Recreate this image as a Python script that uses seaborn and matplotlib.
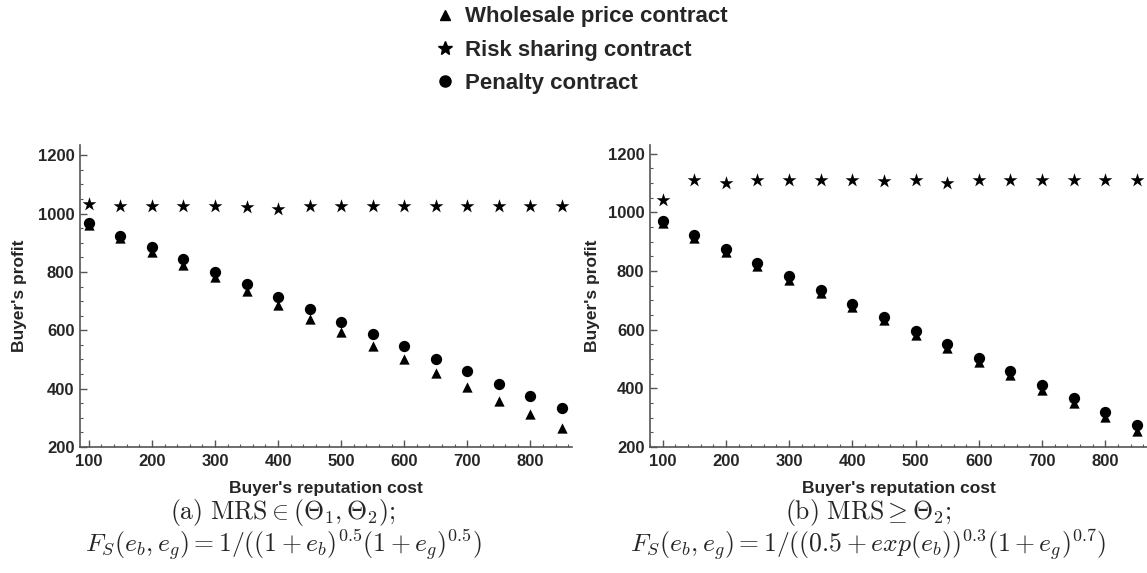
import numpy as np
import pandas as pd
import matplotlib
matplotlib.use("Agg")
import matplotlib.pyplot as plt
from matplotlib.lines import Line2D
from matplotlib.ticker import MultipleLocator
import seaborn as sns

# ---------------- data ----------------
cost = [100, 150, 200, 250, 300, 350, 400, 450, 500, 550, 600, 650, 700, 750, 800, 850]

wholesale_a = [961, 915, 869, 823, 781, 733, 686, 638, 593, 547, 500, 455, 406, 359, 314, 266]
risk_a = [1033, 1027, 1027, 1027, 1027, 1024, 1017, 1027, 1027, 1027, 1027, 1027, 1027, 1027, 1027, 1027]
penalty_a = [969, 924, 884, 843, 800, 758, 714, 672, 628, 587, 545, 501, 461, 416, 375, 334]

wholesale_b = [963, 913, 865, 817, 771, 724, 677, 633, 583, 539, 490, 445, 395, 351, 304, 256]
risk_b = [1042, 1110, 1101, 1110, 1110, 1110, 1110, 1108, 1110, 1101, 1110, 1110, 1110, 1110, 1110, 1110]
penalty_b = [971, 922, 874, 827, 782, 735, 689, 644, 595, 552, 504, 459, 410, 366, 320, 276]

contracts = ["Wholesale price contract", "Risk sharing contract", "Penalty contract"]
markers = {"Wholesale price contract": "^", "Risk sharing contract": "*", "Penalty contract": "o"}
sizes = {"Wholesale price contract": 55, "Risk sharing contract": 110, "Penalty contract": 66}
legend_ms = {"Wholesale price contract": 7, "Risk sharing contract": 10.5, "Penalty contract": 8}

x_label = "Buyer's reputation cost"
y_label = "Buyer's profit"
caption_a = [r"$\mathrm{(a)\ MRS} \in (\Theta_1, \Theta_2);$",
             r"$F_S(e_b, e_g) = 1/((1+e_b)^{0.5}(1+e_g)^{0.5})$"]
caption_b = [r"$\mathrm{(b)\ MRS} \geq \Theta_2;$",
             r"$F_S(e_b, e_g) = 1/((0.5+exp(e_b))^{0.3}(1+e_g)^{0.7})$"]


def long_df(w, r, p):
    rows = []
    for name, vals in zip(contracts, [w, r, p]):
        for c, v in zip(cost, vals):
            rows.append({"cost": c, "profit": v, "contract": name})
    return pd.DataFrame(rows)


df_a = long_df(wholesale_a, risk_a, penalty_a)
df_b = long_df(wholesale_b, risk_b, penalty_b)

# ---------------- style ----------------
sns.set_theme(style="ticks")
plt.rcParams["font.family"] = ["Liberation Sans", "DejaVu Sans"]
plt.rcParams["font.weight"] = "bold"
plt.rcParams["mathtext.fontset"] = "cm"

fig = plt.figure(figsize=(11.47, 5.73), dpi=100)
W, H = 1147, 573
ax_a = fig.add_axes([80 / W, 1 - 447 / H, (572 - 80) / W, (447 - 145) / H])
ax_b = fig.add_axes([650 / W, 1 - 447 / H, (1147 - 650) / W, (447 - 145) / H])

for ax, df, xlim, ylim in [(ax_a, df_a, (86, 866), (200, 1235)),
                            (ax_b, df_b, (80, 866), (200, 1230))]:
    for name in contracts:
        sub = df[df["contract"] == name]
        sns.scatterplot(data=sub, x="cost", y="profit", ax=ax, color="black",
                        marker=markers[name], s=sizes[name], linewidth=0,
                        legend=False)
    ax.set_xlim(*xlim)
    ax.set_ylim(*ylim)
    ax.xaxis.set_minor_locator(MultipleLocator(20))
    ax.yaxis.set_minor_locator(MultipleLocator(50))
    ax.set_xticks([100, 200, 300, 400, 500, 600, 700, 800])
    ax.set_yticks([200, 400, 600, 800, 1000, 1200])
    ax.tick_params(which="major", direction="in", length=5, width=1.0,
                   color="#555555", labelsize=12, pad=4)
    ax.tick_params(which="minor", direction="in", length=2.5, width=0.8,
                   color="#555555")
    ax.tick_params(axis="x", which="major", pad=5)
    for lab in ax.get_xticklabels() + ax.get_yticklabels():
        lab.set_fontweight("bold")
    for side in ["top", "right"]:
        ax.spines[side].set_visible(False)
    for side in ["left", "bottom"]:
        ax.spines[side].set_color("#555555")
        ax.spines[side].set_linewidth(1.2)
    ax.set_xlabel(x_label, fontsize=12.5, fontweight="bold")
    ax.set_ylabel(y_label, fontsize=12.5, fontweight="bold")
    ax.xaxis.label.set_verticalalignment("center")
    ax.yaxis.label.set_verticalalignment("center")
    ax.xaxis.set_label_coords(0.5, -0.136)
    ax.set_facecolor("white")

ax_a.yaxis.set_label_coords(-0.122, 0.5)
ax_b.yaxis.set_label_coords(-0.115, 0.5)

# legend
handles = [Line2D([], [], linestyle="none", marker=markers[n], color="black",
                  markersize=legend_ms[n]) for n in contracts]
fig.legend(handles, contracts, loc="upper left", bbox_to_anchor=(436 / W, 0.989),
           frameon=False, handlelength=0.8, handletextpad=0.5,
           labelspacing=0.55, borderpad=0, borderaxespad=0,
           prop={"weight": "bold", "size": 16})

# captions
fs_cap = 18.5
fig.text(283 / W, 1 - 512 / H, caption_a[0], ha="center", va="center", fontsize=fs_cap)
fig.text(283 / W, 1 - 545 / H, caption_a[1], ha="center", va="center", fontsize=fs_cap)
fig.text(868 / W, 1 - 512 / H, caption_b[0], ha="center", va="center", fontsize=fs_cap)
fig.text(868 / W, 1 - 545 / H, caption_b[1], ha="center", va="center", fontsize=fs_cap)

fig.savefig("out.png", dpi=100, facecolor="white")
